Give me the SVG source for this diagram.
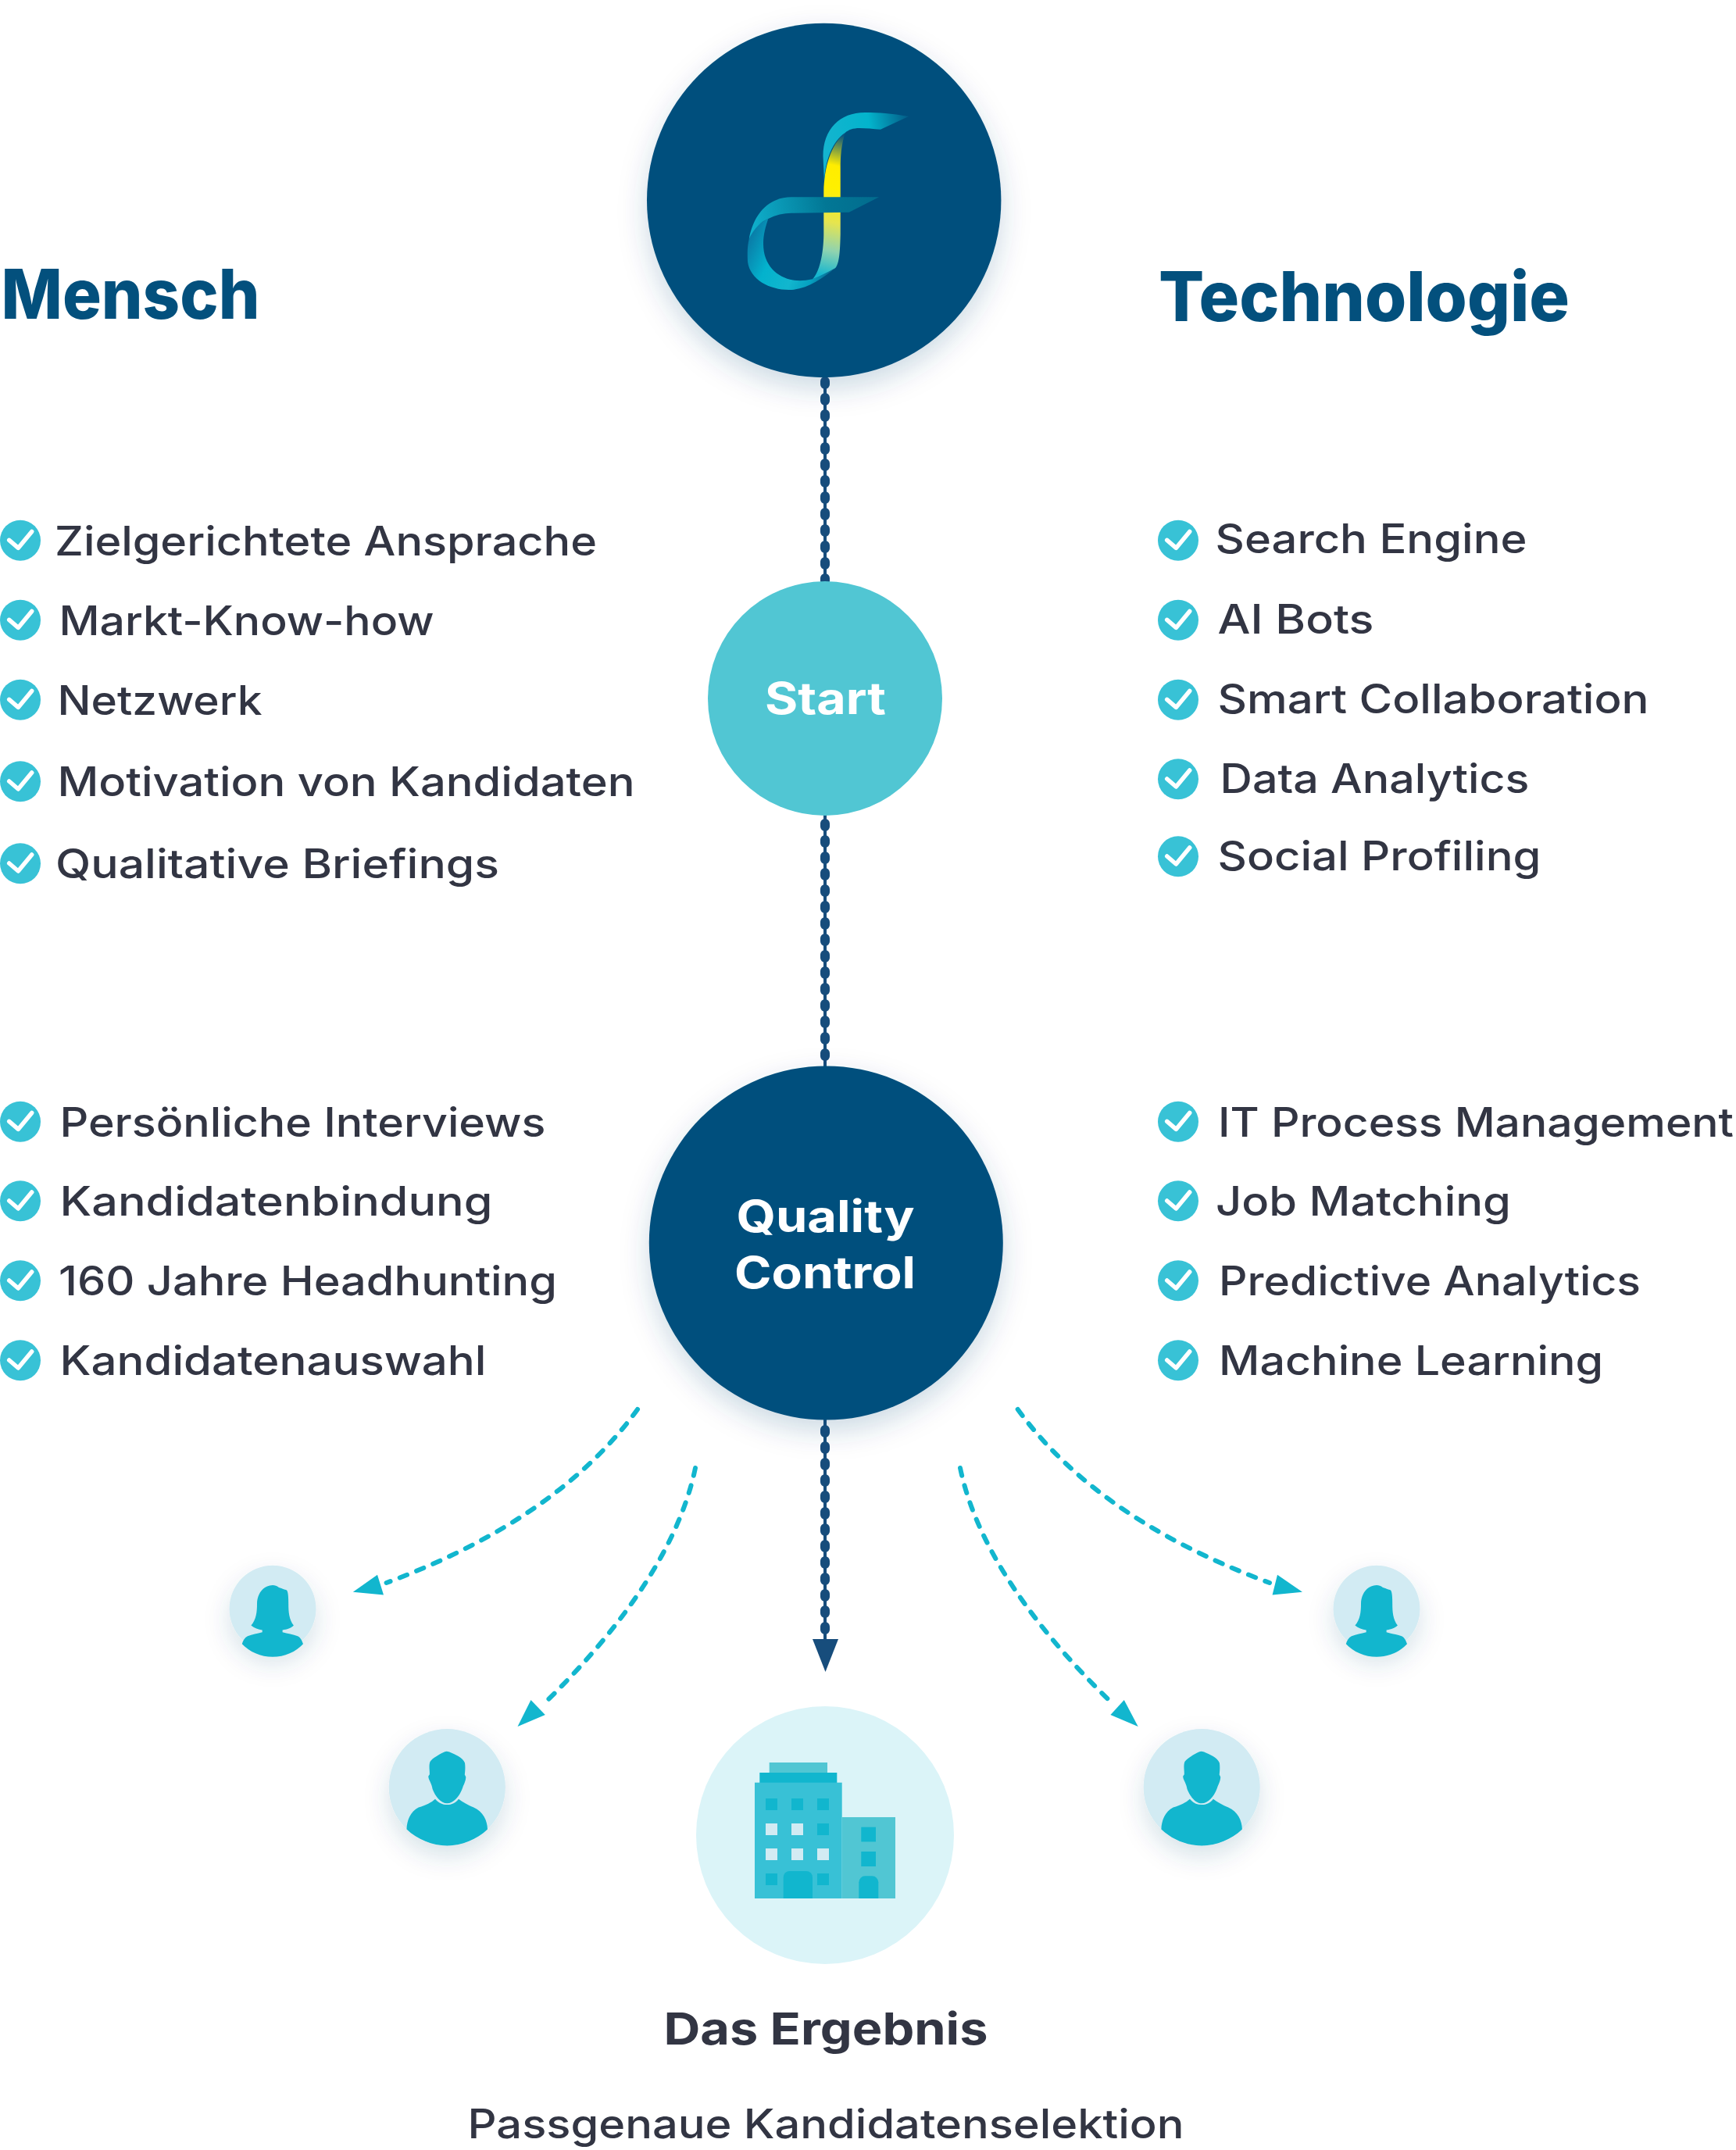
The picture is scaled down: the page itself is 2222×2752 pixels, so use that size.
<svg xmlns="http://www.w3.org/2000/svg" xmlns:xlink="http://www.w3.org/1999/xlink" width="2222" height="2752" viewBox="0 0 2222 2752">
<style>
text{font-family:"Inter","Liberation Sans",sans-serif}
.t{font-size:52px;fill:#323543;font-weight:500}
.h{font-size:88px;fill:#03507d;font-weight:800}
.w{font-size:56px;fill:#fff;font-weight:700}
.b{font-size:57px;fill:#323543;font-weight:700}
.dark{fill:#03507d}
.person{fill:#12b6ce}
.disc{fill:#d2ebf3}
.dots{stroke:#174d7c;stroke-width:12;stroke-linecap:round;stroke-dasharray:4 17;fill:none}
.core{stroke:#174d7c;stroke-width:4;fill:none}
.dash{stroke:#12b6ce;stroke-width:6;stroke-linecap:round;stroke-dasharray:10 13;fill:none}
.head{fill:#12b6ce}
.a{fill:#38c1d6}.c{fill:#11b6ce}.d{fill:#51c6d3}.l{fill:#d2ebf3}
</style>
<defs>
<filter id="sh" x="-30%" y="-30%" width="160%" height="170%"><feDropShadow dx="0" dy="14" stdDeviation="18" flood-color="#0a4a75" flood-opacity="0.2"/></filter>
<filter id="shs" x="-60%" y="-60%" width="220%" height="240%"><feDropShadow dx="0" dy="14" stdDeviation="16" flood-color="#0a4a75" flood-opacity="0.16"/></filter>
<linearGradient id="gTop" gradientUnits="userSpaceOnUse" x1="1053" y1="170" x2="1161" y2="150"><stop offset="0" stop-color="#14b4cf"/><stop offset="0.55" stop-color="#03b4cc"/><stop offset="1" stop-color="#03608a"/></linearGradient>
<linearGradient id="gStripe" gradientUnits="userSpaceOnUse" x1="1085" y1="175" x2="1045" y2="350"><stop offset="0" stop-color="#0b5680"/><stop offset="0.22" stop-color="#ffed00"/><stop offset="0.38" stop-color="#fff000"/><stop offset="0.62" stop-color="#e6e54f"/><stop offset="0.82" stop-color="#8fd3b0"/><stop offset="1" stop-color="#16b6cf"/></linearGradient>
<linearGradient id="gBar" gradientUnits="userSpaceOnUse" x1="960" y1="290" x2="1125" y2="260"><stop offset="0" stop-color="#0fb0cd"/><stop offset="0.6" stop-color="#027795"/><stop offset="1" stop-color="#026c8e"/></linearGradient>
<linearGradient id="gLoop" gradientUnits="userSpaceOnUse" x1="960" y1="300" x2="1069" y2="350"><stop offset="0" stop-color="#0a7aa6"/><stop offset="0.3" stop-color="#03b2cd"/><stop offset="0.6" stop-color="#12b6ce"/><stop offset="0.8" stop-color="#05a0c0"/><stop offset="1" stop-color="#0a5a86"/></linearGradient>
<g id="check"><circle r="26" fill="#38c2d6"/><path d="M-14.3 -0.3L-2.7 9.7L14.7 -11.3" fill="none" stroke="#fff" stroke-width="5.5" stroke-linecap="round" stroke-linejoin="round"/></g>
<g id="woman"><path class="person" d="M0 -30.3C-13 -30 -20 -18 -20 -6.5C-20 4 -21 14 -27.6 21.2C-24 24.5 -18 26.5 -13.3 27.1L-13.3 30C-20 32 -26 32.5 -32 35C-36 37 -38 41 -39.2 44.9C-30 55 -15 61.5 0 61.5C15 61.5 30 55 39 44.9C37.5 41 36 37 32 35C26 32.5 19 32 12.6 30L12.6 27.1C18 26.5 24 24.5 26.9 21.2C21 14 20.2 4 20.2 -6.5C20.2 -14 20 -24 17 -24.3C14 -24.5 12 -26.5 8 -27.3C5 -29.5 3 -30.3 0 -30.3Z"/></g>
<g id="man"><path class="person" d="M-3.6 -45C-12 -41 -22 -35 -22.3 -31C-23.5 -26 -22 -20 -22.5 -16L-24 -14C-24 -9 -20 -6 -18.7 2.4C-15 12 -8 20.7 0 20.7C8 20.7 15.5 12 19.2 2.4C20 -1 24 -7 24 -13L22.5 -16C23 -20 23.5 -26 22.7 -31C20 -38 10 -42 3 -45C0 -46 -1.5 -46 -3.6 -45Z"/><path class="person" d="M-15.3 15.1C-11 20 -6 22.5 0 22.5C6 22.5 11 20 14.7 15.1C20 19 27 23 34 26C46 31 51.5 43 51.7 53.9C38 67 19 74.8 0 74.8C-19 74.8 -38 67 -51.8 53.9C-51.5 43 -47 31 -36.6 26C-27 23 -20 19.5 -15.3 15.1Z"/></g>
</defs>
<rect width="2222" height="2752" fill="#fff"/>

<g id="connectors">
<line class="core" x1="1056" y1="480" x2="1056" y2="746"/><line class="dots" x1="1056" y1="488" x2="1056" y2="744"/>
<line class="core" x1="1056" y1="1042" x2="1056" y2="1368"/><line class="dots" x1="1056" y1="1054" x2="1056" y2="1362"/>
<line class="core" x1="1056" y1="1815" x2="1056" y2="2102"/><line class="dots" x1="1056" y1="1830" x2="1056" y2="2097"/>
<polygon points="1040,2098 1073,2098 1056.5,2140" fill="#174d7c"/>
<path class="dash" d="M816 1804C750 1895 645 1970 494.6 2026"/>
<polygon class="head" points="483,2015.7 491,2041.4 451.8,2037.8"/>
<path class="dash" d="M890 1879C868 1985 790 2090 695 2182"/>
<polygon class="head" points="679.5,2176 697.8,2195 662.5,2210"/>
<path class="dash" d="M1302.7 1804C1369 1895 1474 1970 1625 2026"/>
<polygon class="head" points="1635,2015.7 1628.6,2041.4 1667,2037.8"/>
<path class="dash" d="M1229 1879C1251 1985 1330 2090 1425.4 2182"/>
<polygon class="head" points="1438.8,2176 1421.4,2195 1456.7,2210"/>
</g>

<g id="logo-node">
<circle class="dark" cx="1054.7" cy="256.5" r="226.7" filter="url(#sh)"/>
<path fill="url(#gStripe)" d="M1081.7 170C1077 185 1075.7 200 1075.7 215L1075.7 300C1075.3 320 1074.5 338 1069 343.3C1060 349 1050 354 1040 357.3C1049 348 1054 325 1054.3 300L1054.3 245C1055 215 1063 185 1081.7 170Z"/>
<path fill="url(#gTop)" d="M1163 149C1140 145 1125 144 1107 144C1075 144 1053.5 165 1053.5 200L1055 233C1056 205 1066 180 1081.7 170C1086 166 1092 164 1100 164C1108 164 1118 165 1127 165.7Z"/>
<path fill="url(#gLoop)" d="M958.7 306C956.5 315 956.5 325 957 335C960 358 985 371 1010 371C1032 371 1052 357 1069 343.3C1058 349 1048 354 1040 357.3C1030 359.5 1022 359.5 1015 358.5C995 355 977 340 977 312C977 300 980 290 983.3 280C973 284 964 293 958.7 306Z"/>
<path fill="url(#gBar)" d="M1125 252.3L1013 252.3C985 252.3 965 272 958.7 306C965 292 975 283 983.3 280C993 275 1003 272.7 1013 272.7L1086.7 271.7Z"/>
</g>

<g id="start-node">
<circle fill="#51c6d3" cx="1056" cy="894" r="150"/>
<text class="w" x="979" y="914" textLength="155" lengthAdjust="spacingAndGlyphs">Start</text>
</g>

<g id="quality-node">
<circle class="dark" cx="1057.3" cy="1591" r="226.5" filter="url(#sh)"/>
<text class="w" x="942.5" y="1577" textLength="228" lengthAdjust="spacingAndGlyphs">Quality</text>
<text class="w" x="940" y="1648.6" textLength="232" lengthAdjust="spacingAndGlyphs">Control</text>
</g>

<g id="heading-mensch"><text class="h" x="1.5" y="408" textLength="331" lengthAdjust="spacingAndGlyphs">Mensch</text></g>
<g id="heading-technologie"><text class="h" x="1483" y="411" textLength="526" lengthAdjust="spacingAndGlyphs">Technologie</text></g>

<g id="list-mensch-1">
<use href="#check" x="26" y="691.7"/><text class="t" x="70" y="710.7" textLength="694" lengthAdjust="spacingAndGlyphs">Zielgerichtete Ansprache</text>
<use href="#check" x="26" y="793.7"/><text class="t" x="75.5" y="812.7" textLength="480" lengthAdjust="spacingAndGlyphs">Markt-Know-how</text>
<use href="#check" x="26" y="895.7"/><text class="t" x="73.5" y="914.7" textLength="262" lengthAdjust="spacingAndGlyphs">Netzwerk</text>
<use href="#check" x="26" y="1000.3"/><text class="t" x="73.5" y="1019.3" textLength="739" lengthAdjust="spacingAndGlyphs">Motivation von Kandidaten</text>
<use href="#check" x="26" y="1105.3"/><text class="t" x="71" y="1124" textLength="568" lengthAdjust="spacingAndGlyphs">Qualitative Briefings</text>
</g>
<g id="list-mensch-2">
<use href="#check" x="26" y="1435.7"/><text class="t" x="76.5" y="1454.7" textLength="622" lengthAdjust="spacingAndGlyphs">Persönliche Interviews</text>
<use href="#check" x="26" y="1537.3"/><text class="t" x="76.5" y="1556" textLength="554" lengthAdjust="spacingAndGlyphs">Kandidatenbindung</text>
<use href="#check" x="26" y="1639.3"/><text class="t" x="75" y="1658.3" textLength="638" lengthAdjust="spacingAndGlyphs">160 Jahre Headhunting</text>
<use href="#check" x="26" y="1741.3"/><text class="t" x="76.5" y="1760.3" textLength="546" lengthAdjust="spacingAndGlyphs">Kandidatenauswahl</text>
</g>
<g id="list-technologie-1">
<use href="#check" x="1508" y="691.7"/><text class="t" x="1555.5" y="708" textLength="399" lengthAdjust="spacingAndGlyphs">Search Engine</text>
<use href="#check" x="1508" y="793.7"/><text class="t" x="1558.5" y="811.3" textLength="200" lengthAdjust="spacingAndGlyphs">AI Bots</text>
<use href="#check" x="1508" y="895.7"/><text class="t" x="1558.5" y="913.3" textLength="552" lengthAdjust="spacingAndGlyphs">Smart Collaboration</text>
<use href="#check" x="1508" y="997.3"/><text class="t" x="1561.5" y="1015" textLength="396" lengthAdjust="spacingAndGlyphs">Data Analytics</text>
<use href="#check" x="1508" y="1096.3"/><text class="t" x="1558.5" y="1114" textLength="414" lengthAdjust="spacingAndGlyphs">Social Profiling</text>
</g>
<g id="list-technologie-2">
<use href="#check" x="1508" y="1435.7"/><text class="t" x="1559" y="1454.7" textLength="660" lengthAdjust="spacingAndGlyphs">IT Process Management</text>
<use href="#check" x="1508" y="1537.3"/><text class="t" x="1556" y="1556" textLength="378" lengthAdjust="spacingAndGlyphs">Job Matching</text>
<use href="#check" x="1508" y="1639.3"/><text class="t" x="1560" y="1658.3" textLength="540" lengthAdjust="spacingAndGlyphs">Predictive Analytics</text>
<use href="#check" x="1508" y="1741.3"/><text class="t" x="1560" y="1760.3" textLength="492" lengthAdjust="spacingAndGlyphs">Machine Learning</text>
</g>

<g id="person-woman-left"><circle class="disc" cx="349" cy="2059.3" r="55.5" filter="url(#shs)"/><use href="#woman" x="349" y="2059.3"/></g>
<g id="person-man-left"><circle class="disc" cx="572.3" cy="2287.6" r="74.6" filter="url(#shs)"/><use href="#man" x="572.3" y="2287.6"/></g>
<g id="person-man-right"><circle class="disc" cx="1538.2" cy="2287.6" r="74.6" filter="url(#shs)"/><use href="#man" x="1538.2" y="2287.6"/></g>
<g id="person-woman-right"><circle class="disc" cx="1762" cy="2059.3" r="55.5" filter="url(#shs)"/><use href="#woman" x="1762" y="2059.3"/></g>

<g id="result-node">
<circle fill="#dbf4f8" cx="1056" cy="2349" r="165"/>
<rect class="d" x="984.7" y="2256" width="74.3" height="13"/>
<rect class="c" x="972.3" y="2269" width="99" height="13"/>
<rect class="a" x="966" y="2281.7" width="111.7" height="148.3"/>
<rect class="d" x="1077.7" y="2326" width="68.3" height="104"/>
<rect class="c" x="980" y="2302" width="15" height="15"/><rect class="c" x="1013" y="2302" width="15" height="15"/><rect class="c" x="1046" y="2302" width="15" height="15"/>
<rect class="l" x="980" y="2334" width="15" height="15"/><rect class="l" x="1013" y="2334" width="15" height="15"/><rect class="c" x="1046" y="2334" width="15" height="15"/>
<rect class="l" x="980" y="2366" width="15" height="15"/><rect class="l" x="1013" y="2366" width="15" height="15"/><rect class="l" x="1046" y="2366" width="15" height="15"/>
<rect class="c" x="980" y="2398" width="15" height="15"/><rect class="c" x="1046" y="2398" width="15" height="15"/>
<path class="c" d="M1002.7 2430V2403A8 8 0 0 1 1010.7 2395H1032A8 8 0 0 1 1040 2403V2430Z"/>
<rect class="c" x="1102.3" y="2338.7" width="18.7" height="18.7"/><rect class="c" x="1102.3" y="2370" width="18.7" height="19"/>
<path class="c" d="M1099.3 2430V2409.3A8 8 0 0 1 1107.3 2401.3H1116.3A8 8 0 0 1 1124.3 2409.3V2430Z"/>
<text class="b" x="849.5" y="2616.7" textLength="415" lengthAdjust="spacingAndGlyphs">Das Ergebnis</text>
<text class="t" x="598.5" y="2736.7" textLength="917" lengthAdjust="spacingAndGlyphs">Passgenaue Kandidatenselektion</text>
</g>
</svg>
